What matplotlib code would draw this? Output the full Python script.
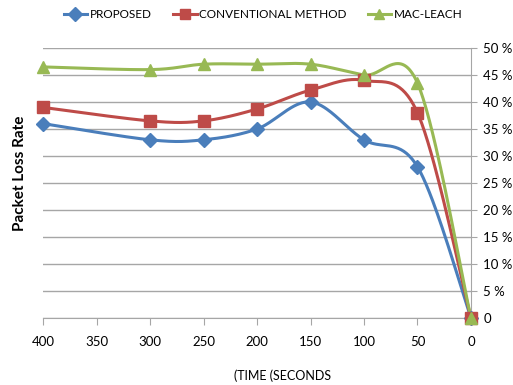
import numpy as np
import matplotlib
matplotlib.use("Agg")
import matplotlib.pyplot as plt
from matplotlib.lines import Line2D

time_s = [400, 300, 250, 200, 150, 100, 50, 0]
proposed = [36, 33, 33, 35, 40, 33, 28, 0]
conventional = [39, 36.5, 36.5, 38.7, 42.2, 44, 38, 0]
mac_leach = [46.5, 46, 47, 47, 47, 45, 43.5, 0]
series_names = ["PROPOSED", "CONVENTIONAL METHOD", "MAC-LEACH"]
colors = ["#4A7EBB", "#BE4B48", "#98B954"]
markers = ["D", "s", "^"]
y_ticks = [0, 5, 10, 15, 20, 25, 30, 35, 40, 45, 50]
x_ticks = [400, 350, 300, 250, 200, 150, 100, 50, 0]

plt.rcParams['font.family'] = ['Lato', 'DejaVu Sans']


def smooth(xs, ys, n=40):
    xs = np.asarray(xs, float)
    ys = np.asarray(ys, float)
    P = np.column_stack([xs, ys])
    out = []
    for i in range(len(P) - 1):
        p0 = P[i - 1] if i > 0 else P[i]
        p1 = P[i]
        p2 = P[i + 1]
        p3 = P[i + 2] if i + 2 < len(P) else P[i + 1]
        c1 = p1 + (p2 - p0) / 6.0
        c2 = p2 - (p3 - p1) / 6.0
        t = np.linspace(0, 1, n)[:, None]
        b = ((1 - t) ** 3) * p1 + 3 * ((1 - t) ** 2) * t * c1 + 3 * (1 - t) * t ** 2 * c2 + t ** 3 * p2
        out.append(b if i == 0 else b[1:])
    b = np.vstack(out)
    return b[:, 0], b[:, 1]


fig = plt.figure(figsize=(5.13, 3.85), dpi=100)
ax = fig.add_axes([43 / 513, 1 - 318 / 385, (471 - 43) / 513, (318 - 48) / 385])

for ys, name, c, m in zip([proposed, conventional, mac_leach], series_names, colors, markers):
    sx, sy = smooth(time_s, ys)
    ax.plot(sx, sy, color=c, lw=2.2, clip_on=False, zorder=3)
    ms = 7 if m == "D" else 8
    ax.plot(time_s, ys, ls='none', marker=m, color=c, ms=ms, clip_on=False, zorder=4)

ax.set_xlim(400, 0)
ax.set_ylim(0, 50)
ax.set_xticks(x_ticks)
ax.set_xticklabels([str(v) for v in x_ticks], fontsize=9.5)
ax.set_yticks(y_ticks)
ax.set_yticklabels(["0"] + [f"{v} %" for v in y_ticks[1:]], fontsize=9.5)
ax.yaxis.tick_right()
ax.grid(axis='y', color='#A6A6A6', lw=1)
ax.set_axisbelow(True)
for s in ['top', 'left']:
    ax.spines[s].set_visible(False)
for s in ['bottom', 'right']:
    ax.spines[s].set_color('#A6A6A6')
ax.tick_params(axis='x', direction='out', length=5, color='#A6A6A6', pad=8)
ax.tick_params(axis='y', direction='out', length=4, color='#A6A6A6', pad=5)

handles = [Line2D([0], [0], color=c, lw=2.2, marker=m, ms=7) for c, m in zip(colors, markers)]
fig.legend(handles, series_names, loc='center', bbox_to_anchor=(263 / 513, 1 - 15 / 385),
           ncol=3, frameon=False, fontsize=8.5, handlelength=2.0, columnspacing=1.8, handletextpad=0.2)

fig.text(20 / 513, 1 - 173 / 385, "Packet Loss Rate", rotation=90, ha='center', va='center',
         fontsize=11, fontweight='bold')
fig.text(283 / 513, 1 - 376 / 385, "(TIME (SECONDS", ha='center', va='center', fontsize=9)

fig.savefig("out.png", dpi=100)
